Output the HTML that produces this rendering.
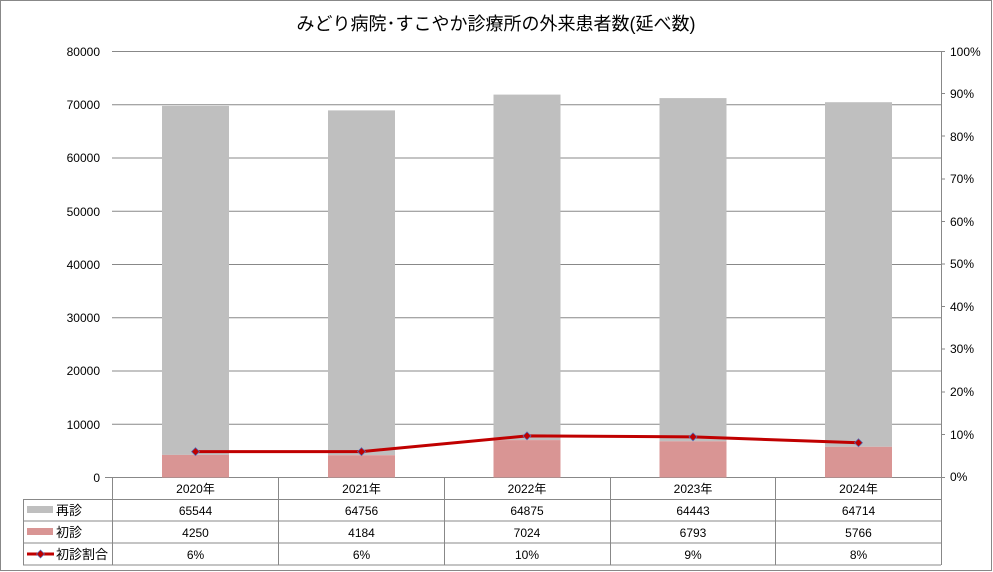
<!DOCTYPE html>
<html><head><meta charset="utf-8"><style>
body{margin:0;background:#fff}
svg{display:block}
text{font-family:"Liberation Sans","Noto Sans CJK JP",sans-serif;fill:#000}
</style></head><body>
<svg width="993" height="572" xmlns="http://www.w3.org/2000/svg">
<rect x="0.5" y="0.5" width="991" height="570" fill="#fff" stroke="#888"/>
<text x="496" y="30" font-size="18" text-anchor="middle">みどり病院･すこやか診療所の外来患者数(延べ数)</text>
<g stroke="#888" stroke-width="1">
<line x1="112" y1="51.5" x2="945" y2="51.5"/>
<line x1="112" y1="104.75" x2="941" y2="104.75"/>
<line x1="112" y1="158" x2="941" y2="158"/>
<line x1="112" y1="211.25" x2="941" y2="211.25"/>
<line x1="112" y1="264.5" x2="941" y2="264.5"/>
<line x1="112" y1="317.75" x2="941" y2="317.75"/>
<line x1="112" y1="371" x2="941" y2="371"/>
<line x1="112" y1="424.25" x2="941" y2="424.25"/>
<line x1="105" y1="477.5" x2="945" y2="477.5"/>
<line x1="941" y1="93.5" x2="945" y2="93.5"/>
<line x1="941" y1="136" x2="945" y2="136"/>
<line x1="941" y1="179" x2="945" y2="179"/>
<line x1="941" y1="221.5" x2="945" y2="221.5"/>
<line x1="941" y1="264" x2="945" y2="264"/>
<line x1="941" y1="306.5" x2="945" y2="306.5"/>
<line x1="941" y1="349" x2="945" y2="349"/>
<line x1="941" y1="392" x2="945" y2="392"/>
<line x1="941" y1="434.5" x2="945" y2="434.5"/>
<line x1="941.5" y1="51.5" x2="941.5" y2="565"/>
<line x1="112.5" y1="477" x2="112.5" y2="565"/>
<line x1="278.5" y1="477" x2="278.5" y2="565"/>
<line x1="444.5" y1="477" x2="444.5" y2="565"/>
<line x1="610.5" y1="477" x2="610.5" y2="565"/>
<line x1="775.5" y1="477" x2="775.5" y2="565"/>
<line x1="23" y1="499.5" x2="941" y2="499.5"/>
<line x1="23" y1="521" x2="941" y2="521"/>
<line x1="23" y1="543" x2="941" y2="543"/>
<line x1="23" y1="565" x2="941" y2="565"/>
<line x1="23.5" y1="499.5" x2="23.5" y2="565"/>
</g>
<g fill="#bfbfbf">
<rect x="162" y="105.9" width="67" height="349"/>
<rect x="328" y="110.4" width="67" height="344.8"/>
<rect x="493.5" y="94.6" width="67" height="345.5"/>
<rect x="659.5" y="98.1" width="67" height="343.2"/>
<rect x="825" y="102.2" width="67" height="344.6"/>
</g>
<g fill="#d99594">
<rect x="162" y="454.9" width="67" height="22.6"/>
<rect x="328" y="455.2" width="67" height="22.3"/>
<rect x="493.5" y="440.1" width="67" height="37.4"/>
<rect x="659.5" y="441.3" width="67" height="36.2"/>
<rect x="825" y="446.8" width="67" height="30.7"/>
</g>
<polyline points="195.5,451.6 361.5,451.6 527,435.9 693,436.9 858.5,442.7" fill="none" stroke="#c00000" stroke-width="3"/>
<g fill="#c00000" stroke="#4f6fbf" stroke-width="0.7">
<path d="M195.5 447.6l4 4-4 4-4-4z"/><path d="M361.5 447.6l4 4-4 4-4-4z"/><path d="M527 431.9l4 4-4 4-4-4z"/><path d="M693 432.9l4 4-4 4-4-4z"/><path d="M858.5 438.7l4 4-4 4-4-4z"/>
</g>
<g font-size="12" text-anchor="end">
<text x="100" y="56">80000</text><text x="100" y="109">70000</text><text x="100" y="162">60000</text><text x="100" y="216">50000</text><text x="100" y="269">40000</text><text x="100" y="322">30000</text><text x="100" y="375">20000</text><text x="100" y="429">10000</text><text x="100" y="482">0</text>
</g>
<g font-size="12">
<text x="950" y="56">100%</text><text x="950" y="98">90%</text><text x="950" y="141">80%</text><text x="950" y="183">70%</text><text x="950" y="226">60%</text><text x="950" y="268">50%</text><text x="950" y="311">40%</text><text x="950" y="353">30%</text><text x="950" y="396">20%</text><text x="950" y="439">10%</text><text x="950" y="481">0%</text>
</g>
<g font-size="12" text-anchor="middle">
<text x="195.5" y="493">2020年</text><text x="361.5" y="493">2021年</text><text x="527" y="493">2022年</text><text x="693" y="493">2023年</text><text x="858.5" y="493">2024年</text>
<text x="195.5" y="515">65544</text><text x="361.5" y="515">64756</text><text x="527" y="515">64875</text><text x="693" y="515">64443</text><text x="858.5" y="515">64714</text>
<text x="195.5" y="537">4250</text><text x="361.5" y="537">4184</text><text x="527" y="537">7024</text><text x="693" y="537">6793</text><text x="858.5" y="537">5766</text>
<text x="195.5" y="559">6%</text><text x="361.5" y="559">6%</text><text x="527" y="559">10%</text><text x="693" y="559">9%</text><text x="858.5" y="559">8%</text>
</g>
<rect x="27" y="506" width="26" height="7" fill="#bfbfbf"/>
<rect x="27" y="528" width="26" height="7" fill="#d99594"/>
<line x1="27" y1="554" x2="54" y2="554" stroke="#c00000" stroke-width="3"/>
<path d="M40.5 550l4 4-4 4-4-4z" fill="#c00000" stroke="#4f6fbf" stroke-width="0.7"/>
<g font-size="13">
<text x="56" y="515">再診</text><text x="56" y="537">初診</text><text x="56" y="559">初診割合</text>
</g>
</svg>
</body></html>
